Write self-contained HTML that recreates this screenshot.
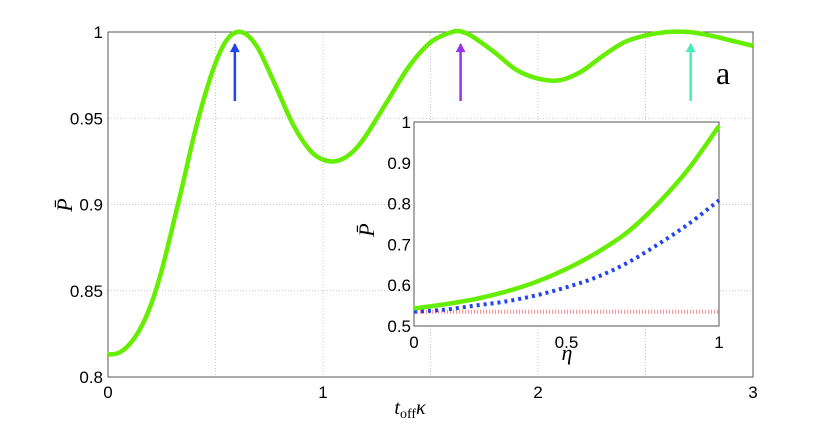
<!DOCTYPE html>
<html><head><meta charset="utf-8"><style>
body{margin:0;background:#fff;width:830px;height:424px;overflow:hidden}
svg text{fill:#000}
</style></head><body>
<svg width="830" height="424">
<g id="main"></g>
<g id="inset"></g>
</svg>
<script>
const mainX=[0,0.05,0.1,0.15,0.2,0.25,0.3,0.35,0.4,0.45,0.5,0.55,0.6,0.65,0.7,0.75,0.8,0.85,0.9,0.95,1.0,1.05,1.1,1.15,1.2,1.3,1.4,1.5,1.6,1.65,1.7,1.8,1.9,2.0,2.1,2.2,2.3,2.4,2.5,2.6,2.7,2.8,2.9,3.0];
const mainY=[0.813,0.814,0.819,0.828,0.842,0.862,0.887,0.913,0.940,0.963,0.982,0.995,1.000,0.998,0.990,0.977,0.963,0.949,0.938,0.930,0.926,0.925,0.927,0.932,0.940,0.960,0.980,0.994,1.000,1.000,0.997,0.988,0.978,0.973,0.972,0.977,0.986,0.994,0.998,1.000,1.000,0.998,0.995,0.992];
const mainXTicks=[0,1,2,3];
const mainYTicks=[0.8,0.85,0.9,0.95,1];
const mainYTickLabels=["0.8","0.85","0.9","0.95","1"];
const arrowX=[0.59,1.64,2.71];
const arrowColors=["#2244ee","#9933ee","#44eebb"];
const insetX=[0,0.1,0.2,0.3,0.4,0.5,0.6,0.7,0.8,0.9,1];
const insetGreen=[0.543,0.553,0.566,0.584,0.608,0.640,0.680,0.730,0.800,0.885,0.990];
const insetBlue=[0.535,0.540,0.550,0.560,0.575,0.595,0.620,0.655,0.700,0.750,0.808];
const insetRed=[0.535,0.535,0.535,0.535,0.535,0.535,0.535,0.535,0.535,0.535,0.535];
const insetXTicks=[0,0.5,1];
const insetYTicks=[0.5,0.6,0.7,0.8,0.9,1];
const insetYTickLabels=["0.5","0.6","0.7","0.8","0.9","1"];

const NS="http://www.w3.org/2000/svg";
const SANS='font-family:"Liberation Sans",sans-serif';
const SERIF='font-family:"Liberation Serif",serif';
function mk(p,t,a){const e=document.createElementNS(NS,t);for(const k in a)e.setAttribute(k,a[k]);p.appendChild(e);return e;}
function smooth(pts){let d="M"+pts[0][0]+","+pts[0][1];for(let i=0;i<pts.length-1;i++){const p0=pts[Math.max(0,i-1)],p1=pts[i],p2=pts[i+1],p3=pts[Math.min(pts.length-1,i+2)];d+=" C"+(p1[0]+(p2[0]-p0[0])/6)+","+(p1[1]+(p2[1]-p0[1])/6)+" "+(p2[0]-(p3[0]-p1[0])/6)+","+(p2[1]-(p3[1]-p1[1])/6)+" "+p2[0]+","+p2[1];}return d;}

const M=document.getElementById('main');
const L=108,R=753,T=32,B=377;
const mx=v=>L+(v-0)/3*(R-L), my=v=>B-(v-0.8)/0.2*(B-T);
for(let v=0.5;v<3;v+=0.5){const g=mk(M,'line',{x1:mx(v),x2:mx(v),y1:T,y2:B,stroke:'#bbb','stroke-dasharray':'1,2','stroke-width':0.8});

}
mainYTicks.forEach((v,i)=>{if(i>0&&i<mainYTicks.length-1){const g=mk(M,'line',{x1:L,x2:R,y1:my(v),y2:my(v),stroke:'#bbb','stroke-dasharray':'1,2','stroke-width':0.8});

}});
const fr=mk(M,'rect',{x:L,y:T,width:R-L,height:B-T,fill:'none',stroke:'#555','stroke-width':1});


mainXTicks.forEach(v=>{const t=mk(M,'text',{x:mx(v),y:B+21,'text-anchor':'middle',style:SANS+';font-size:17px'});t.textContent=v;

});
mainYTicks.forEach((v,i)=>{const t=mk(M,'text',{x:L-5,y:my(v)+6,'text-anchor':'end',style:SANS+';font-size:17px'});t.textContent=mainYTickLabels[i];

});
const mc=mk(M,'path',{d:smooth(mainX.map((x,i)=>[mx(x),my(mainY[i])])),fill:'none',stroke:'#66ee00','stroke-width':4.5});


arrowX.forEach((v,i)=>{const x=mx(v);const l=mk(M,'line',{x1:x,x2:x,y1:my(0.96),y2:my(0.993),stroke:arrowColors[i],'stroke-width':2.5});


const h=mk(M,'polygon',{points:`${x-5},${my(0.993)+8} ${x+5},${my(0.993)+8} ${x},${my(0.993)-1}`,fill:arrowColors[i]});

});
const xl=mk(M,'text',{x:410,y:414,'text-anchor':'middle',style:SERIF+';font-size:20px'});
xl.innerHTML='<tspan font-style="italic">t</tspan><tspan font-size="14" dy="4">off</tspan><tspan dy="-4" font-style="italic">κ</tspan>';


const yl=mk(M,'text',{x:0,y:0,'text-anchor':'middle',style:SERIF+';font-size:22px;font-style:italic',transform:'translate(72,205) rotate(-90)'});
yl.textContent='P̄';


const pa=mk(M,'text',{x:716,y:84,style:SERIF+';font-size:32px'});pa.textContent='a';



const I=document.getElementById('inset');
const l2=414,r2=719,t2=122,b2=326;
const ix=v=>l2+v*(r2-l2), iy=v=>b2-(v-0.5)/0.5*(b2-t2);
const ir=mk(I,'rect',{x:l2,y:t2,width:r2-l2,height:b2-t2,fill:'#fff',stroke:'#555','stroke-width':1});


insetXTicks.forEach(v=>{const t=mk(I,'text',{x:ix(v),y:b2+22,'text-anchor':'middle',style:SANS+';font-size:17px'});t.textContent=v;

});
insetYTicks.forEach((v,i)=>{const t=mk(I,'text',{x:l2-3,y:iy(v)+6,'text-anchor':'end',style:SANS+';font-size:17px'});t.textContent=insetYTickLabels[i];

});
const rc=mk(I,'path',{d:smooth(insetX.map((x,i)=>[ix(x),iy(insetRed[i])])),fill:'none',stroke:'#f44','stroke-width':4,'stroke-dasharray':'1,2',opacity:0.6});


const bc=mk(I,'path',{d:smooth(insetX.map((x,i)=>[ix(x),iy(insetBlue[i])])),fill:'none',stroke:'#2244ee','stroke-width':4,'stroke-dasharray':'3,4'});


const gc=mk(I,'path',{d:smooth(insetX.map((x,i)=>[ix(x),iy(insetGreen[i])])),fill:'none',stroke:'#66ee00','stroke-width':4.5});


const ixl=mk(I,'text',{x:567,y:360,'text-anchor':'middle',style:SERIF+';font-size:22px;font-style:italic'});ixl.textContent='η';


const iyl=mk(I,'text',{x:0,y:0,'text-anchor':'middle',style:SERIF+';font-size:22px;font-style:italic',transform:'translate(374,230) rotate(-90)'});iyl.textContent='P̄';


</script>
</body></html>
